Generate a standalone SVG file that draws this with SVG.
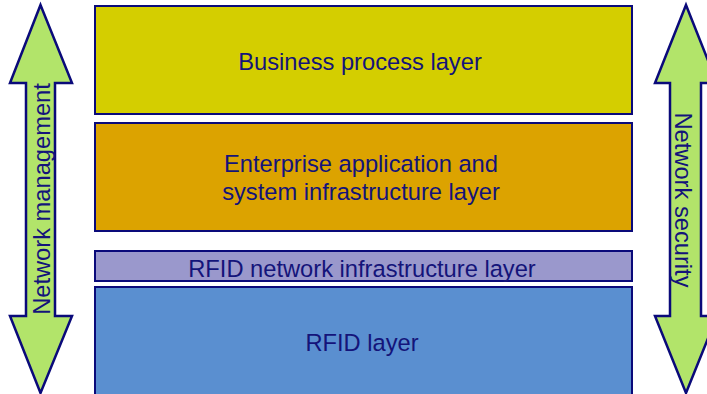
<svg xmlns="http://www.w3.org/2000/svg" width="707" height="394" viewBox="0 0 707 394">
<style>
.box{stroke:#0a0a7a;stroke-width:2}
.arr{fill:#b2e46a;stroke:#0a0a7a;stroke-width:2.5;stroke-linejoin:miter}
.t{font-family:"Liberation Sans",Arial,sans-serif;font-size:23.7px;fill:#14147a;text-anchor:middle}
</style>
<rect width="707" height="394" fill="#ffffff"/>
<g id="business">
<rect class="box" x="95" y="6" width="537" height="108" fill="#d4ce00"/>
<text class="t" x="360" y="69.5">Business process layer</text>
</g>
<g id="enterprise">
<rect class="box" x="95" y="123" width="537" height="108" fill="#dca300"/>
<text class="t" x="361" y="172">Enterprise application and</text>
<text class="t" x="361" y="200">system infrastructure layer</text>
</g>
<g id="rfidnet">
<rect class="box" x="95" y="251" width="537" height="30" fill="#9a98cc"/>
<text class="t" x="362" y="277">RFID network infrastructure layer</text>
</g>
<g id="rfid">
<rect class="box" x="95" y="287" width="537" height="112" fill="#5a8fd0"/>
<text class="t" x="362" y="350.5">RFID layer</text>
</g>
<g id="netmgmt">
<polygon class="arr" points="40.5,5 72,83 55,83 55,316 72,316 40.5,393 10,316 26,316 26,83 10,83"/>
<text class="t" transform="translate(50,199) rotate(-90)">Network management</text>
</g>
<g id="netsec">
<polygon class="arr" points="686,5 717,83 701,83 701,316 717,316 686,393 655,316 670,316 670,83 655,83"/>
<text class="t" transform="translate(675,200) rotate(90)">Network security</text>
</g>
<g id="connectors"></g>
</svg>
